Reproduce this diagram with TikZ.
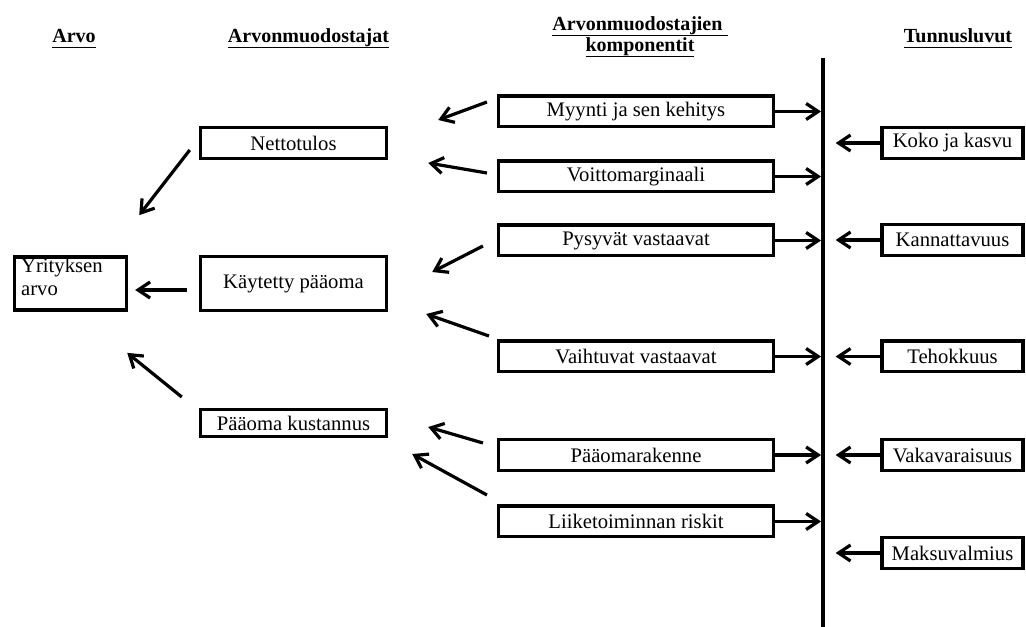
\documentclass[tikz,border=0pt]{standalone}
\usepackage{fontspec}
\setmainfont{Liberation Serif}
\usetikzlibrary{positioning, arrows.meta}
\newsavebox{\hdrbox}
\newcommand{\hdrul}[1]{\sbox{\hdrbox}{#1}\rlap{\rule[-4pt]{\wd\hdrbox}{1.1pt}}\usebox{\hdrbox}}

\begin{document}
\begin{tikzpicture}[x=0.75pt,y=-0.75pt,
                  box/.style={rectangle,draw=black,line width=2.6pt,inner sep=2pt,
                    font=\fontsize{15.5}{17.3}\selectfont},
                  comp/.style={box,minimum width=206pt,minimum height=22.9pt},
                  driver/.style={box,minimum width=139.5pt,minimum height=22.9pt},
                  ratio/.style={box,minimum width=106pt,minimum height=22.9pt},
                  hdr/.style={font=\fontsize{15}{15.75}\selectfont\bfseries,align=center,anchor=base},
                  pre/.style={<-,line width=2.4pt,>={Straight Barb[length=9pt,width=12pt]}},
                  post/.style={->,line width=2.4pt,>={Straight Barb[length=9pt,width=12pt]}}
                  ]
                  \useasboundingbox (0,0) rectangle (1026,627);

                  % headings
                  \node[hdr] (h1) at (74,43) {\hdrul{Arvo}};
                  \node[hdr] (h2) at (308.5,43) {\hdrul{Arvonmuodostajat}};
                  \node[hdr] (h3) at (640,52) {\hdrul{Arvonmuodostajien~}\\\hdrul{komponentit}};
                  \node[hdr] (h4) at (958,43) {\hdrul{Tunnusluvut}};

                  % value
                  \node[box,minimum width=84pt,minimum height=40pt,inner ysep=1pt,inner xsep=5pt,
                    text width=74pt,align=left,text height=11pt,text depth=27pt]
                    (arvo) at (70.5,283.5) {Yrityksen\\arvo};

                  % value drivers
                  \node[driver] (netto) at (293.5,143) {Nettotulos};
                  \node[driver,minimum height=40.2pt] (kaytetty) at (293.5,283.5) {Käytetty pääoma};
                  \node[driver,minimum height=19.9pt] (kustannus) at (293.5,423) {Pääoma kustannus};

                  % components
                  \node[comp] (myynti) at (636,111.5) {Myynti ja sen kehitys};
                  \node[comp] (voitto) at (636,176.5) {Voittomarginaali};
                  \node[comp] (pysyvat) at (636,240.5) {Pysyvät vastaavat};
                  \node[comp] (vaihtuvat) at (636,356.5) {Vaihtuvat vastaavat};
                  \node[comp] (rakenne) at (636,455) {Pääomarakenne};
                  \node[comp] (riskit) at (636,521.5) {Liiketoiminnan riskit};

                  % key ratios
                  \node[ratio] (koko) at (952.5,143) {Koko ja kasvu};
                  \node[ratio] (kannatt) at (952.5,240) {Kannattavuus};
                  \node[ratio] (tehokk) at (952.5,356.5) {Tehokkuus};
                  \node[ratio] (vakav) at (952.5,455) {Vakavaraisuus};
                  \node[ratio] (maksuv) at (952.5,553) {Maksuvalmius};

                  % axis
                  \coordinate (axtop) at (823,58);
                  \coordinate (axbot) at (823,627);
                  \draw[line width=2.6pt] (axtop) -- (axbot);

                  \foreach \c in {myynti,voitto,pysyvat,vaihtuvat,rakenne,riskit}
                    \draw[post,shorten >=1.5pt] (\c) -- (\c -| axtop);
                  \foreach \r in {koko,kannatt,tehokk,vakav,maksuv}
                    \draw[pre,shorten <=9.5pt] (\r -| axtop) -- (\r);

                  % components to drivers
                  \draw[post] ([shift={(-10,-9.5)}]myynti.west) -- ([shift={(50,-23)}]netto.east);
                  \draw[post] ([shift={(-10,-3.5)}]voitto.west) -- ([shift={(40,20)}]netto.east);
                  \draw[post] ([shift={(-14,5.5)}]pysyvat.west) -- ([shift={(44,-11.5)}]kaytetty.east);
                  \draw[post] ([shift={(-8,-20.5)}]vaihtuvat.west) -- ([shift={(38,30.5)}]kaytetty.east);
                  \draw[post] ([shift={(-14,-12)}]rakenne.west) -- ([shift={(40,4)}]kustannus.east);
                  \draw[post] ([shift={(-10,-26.5)}]riskit.west) -- ([shift={(24,31)}]kustannus.east);

                  % drivers to value
                  \draw[post] ([shift={(-9,7)}]netto.west) -- ([shift={(11,-40)}]arvo.north east);
                  \draw[post] ([shift={(-12,6.5)}]kaytetty.west) -- ([shift={(7,6.5)}]arvo.east);
                  \draw[post] ([shift={(-17,-26)}]kustannus.west) -- ([shift={(-1,41)}]arvo.south east);
\end{tikzpicture}
\end{document}
